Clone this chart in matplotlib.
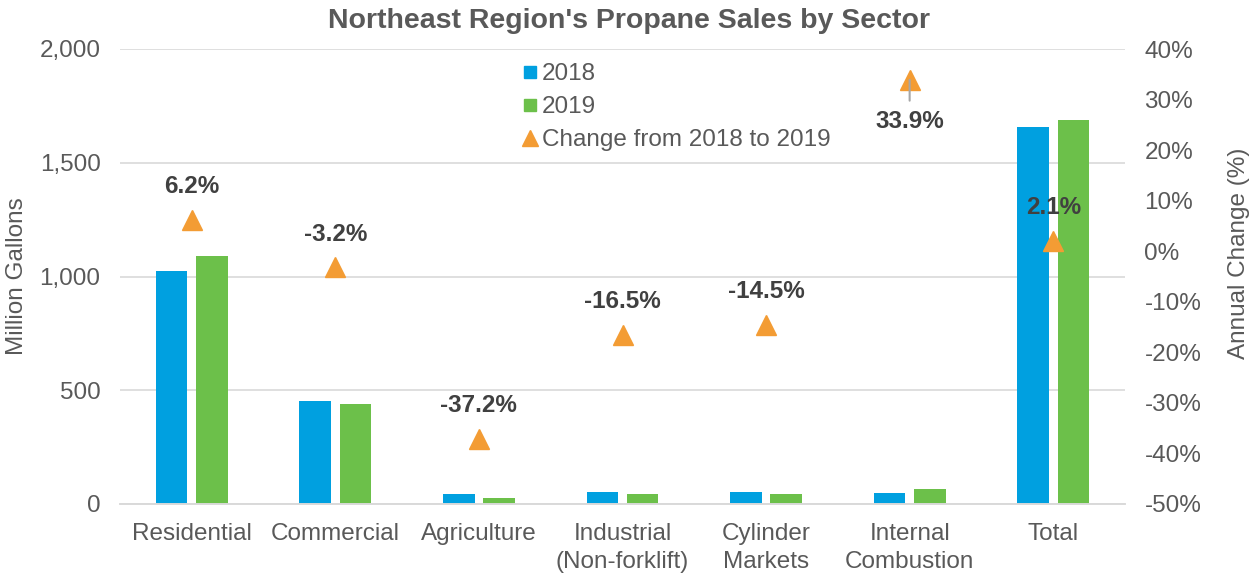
import numpy as np
import matplotlib
matplotlib.use('Agg')
import matplotlib.pyplot as plt
from matplotlib.lines import Line2D

sectors = ['Residential', 'Commercial', 'Agriculture', 'Industrial\n(Non-forklift)',
           'Cylinder\nMarkets', 'Internal\nCombustion', 'Total']
sales_2018 = [1026, 452, 44, 51, 52, 50, 1658]
sales_2019 = [1088, 438, 28, 43, 45, 66, 1690]
change_pct = [6.2, -3.2, -37.2, -16.5, -14.5, 33.9, 2.1]
label_below = [False, False, False, False, False, True, False]

BLUE = '#00A0E0'
GREEN = '#6CC04A'
ORANGE = '#F39C34'
GREY = '#595959'
DARK = '#404040'

plt.rcParams['font.family'] = ['Liberation Sans', 'DejaVu Sans']
plt.rcParams['font.size'] = 17

fig = plt.figure(figsize=(12.57, 5.73), dpi=100)
ax = fig.add_axes([120 / 1257, 69 / 573, 1005 / 1257, 455 / 573])
ax2 = ax.twinx()

x = np.arange(len(sectors))
w = 0.22
ax.bar(x - 0.14, sales_2018, w, color=BLUE, zorder=2)
ax.bar(x + 0.14, sales_2019, w, color=GREEN, zorder=2)

ax.set_xlim(-0.5, len(sectors) - 0.5)
ax.set_ylim(0, 2000)
ax.set_yticks([0, 500, 1000, 1500, 2000])
ax.set_yticklabels(['0', '500', '1,000', '1,500', '2,000'])
ax.set_xticks(x)
ax.set_xticklabels(sectors, linespacing=1.3)
ax.grid(axis='y', color='#d9d9d9', linewidth=1.2, zorder=0)
ax.set_axisbelow(True)
ax.tick_params(axis='both', length=0, colors=GREY, labelsize=17.5)
ax.tick_params(axis='y', pad=14)
ax.tick_params(axis='x', pad=14)
ax.set_ylabel('Million Gallons', color=GREY, fontsize=17.5)
ax.yaxis.set_label_coords(-0.0915, 0.5)

ax2.plot(x, change_pct, linestyle='none', marker='^', markersize=15,
         color=ORANGE, zorder=3)
ax2.set_ylim(-50, 40)
ax2.set_yticks(np.arange(-50, 41, 10))
ax2.set_yticklabels([f'{v}%' for v in range(-50, 41, 10)])
ax2.tick_params(axis='y', length=0, colors=GREY, labelsize=17.5, pad=14)
ax2.set_ylabel('Annual Change (%)', color=GREY, fontsize=17.5)
ax2.yaxis.set_label_coords(1.1025, 0.55)

for a in (ax, ax2):
    for s in ('top', 'left', 'right'):
        a.spines[s].set_visible(False)
    a.spines['bottom'].set_color('#d9d9d9')
    a.spines['bottom'].set_linewidth(1.2)

for xi, v, below in zip(x, change_pct, label_below):
    if below:
        ax2.annotate('', xy=(xi, v), xytext=(0, -15), textcoords='offset points',
                     arrowprops=dict(arrowstyle='-', color='#a6a6a6', lw=1.5,
                                     shrinkA=0, shrinkB=0), zorder=4)
        ax2.annotate(f'{v}%', xy=(xi, v), xytext=(0, -30), textcoords='offset points',
                     ha='center', va='center', fontsize=17.5, fontweight='bold', color=DARK)
    else:
        ax2.annotate(f'{v}%', xy=(xi, v), xytext=(0, 24), textcoords='offset points',
                     ha='center', va='center', fontsize=17.5, fontweight='bold', color=DARK)

handles = [
    Line2D([], [], linestyle='none', marker='s', markersize=9, color=BLUE),
    Line2D([], [], linestyle='none', marker='s', markersize=9, color=GREEN),
    Line2D([], [], linestyle='none', marker='^', markersize=12, color=ORANGE),
]
fig.legend(handles, ['2018', '2019', 'Change from 2018 to 2019'],
           loc='upper left', bbox_to_anchor=(508 / 1257, 1 - 51 / 573),
           frameon=False, fontsize=17.5, handlelength=0.8, handletextpad=0.1,
           labelspacing=0.45, borderpad=0, labelcolor=GREY)

fig.text(0.5, 1 - 21 / 573, "Northeast Region's Propane Sales by Sector",
         ha='center', va='center', fontsize=20.5, fontweight='bold', color=GREY)

fig.savefig('out.png', dpi=100)
